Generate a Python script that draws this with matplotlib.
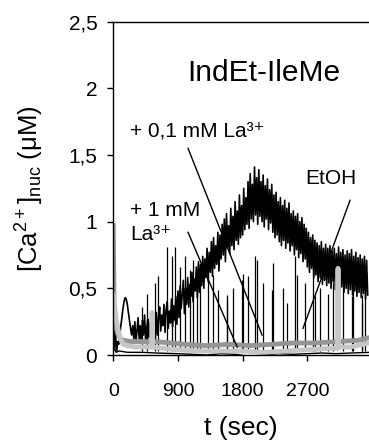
import numpy as np
import matplotlib
matplotlib.use("Agg")
import matplotlib.pyplot as plt

plt.rcParams['font.family'] = ['Liberation Sans', 'DejaVu Sans']
plt.rcParams['mathtext.fontset'] = 'custom'
plt.rcParams['mathtext.rm'] = 'Liberation Sans'
plt.rcParams['mathtext.default'] = 'regular'

# Trace with + 0,1 mM La3+ (black, noisy), one reading every 15 s
STEP = 15
ca_01 = [
    0.25, 0.05, 0.18, 0.03, 0.10, 0.08, 0.15, 0.22, 0.28, 0.35, 0.40, 0.43, 0.42, 0.38, 0.32, 0.26, 0.20, 0.15, 0.22, 0.12,
    0.25, 0.10, 0.18, 0.28, 0.12, 0.22, 0.09, 0.26, 0.15, 0.30, 0.11, 0.20, 0.27, 0.13, 0.24, 0.10, 0.29, 0.16, 0.23, 0.12,
    0.32, 0.15, 0.28, 0.36, 0.18, 0.30, 0.22, 0.38, 0.17, 0.34, 0.40, 0.20, 0.33, 0.24, 0.42, 0.21, 0.37, 0.26, 0.44, 0.23,
    0.48, 0.28, 0.52, 0.35, 0.45, 0.56, 0.31, 0.50, 0.38, 0.58, 0.36, 0.53, 0.44, 0.62, 0.40, 0.57, 0.48, 0.66, 0.43, 0.70,
    0.47, 0.68, 0.52, 0.74, 0.50, 0.72, 0.58, 0.80, 0.55, 0.77, 0.62, 0.85, 0.59, 0.88, 0.65, 0.82, 0.68, 0.92, 0.63, 0.90,
    0.72, 0.98, 0.75, 1.02, 0.70, 1.06, 0.80, 0.97, 0.76, 1.10, 0.82, 1.04, 0.79, 1.15, 0.86, 1.08, 0.83, 1.20, 0.88, 1.12,
    0.90, 1.25, 0.94, 1.18, 0.98, 1.30, 0.95, 1.36, 1.02, 1.28, 1.00, 1.41, 1.05, 1.33, 0.98, 1.39, 1.04, 1.30, 1.00, 1.35,
    0.96, 1.27, 1.02, 1.32, 0.94, 1.24, 0.99, 1.28, 0.92, 1.20, 0.88, 1.22, 0.90, 1.15, 0.85, 1.18, 0.82, 1.12, 0.86, 1.16,
    0.80, 1.10, 0.84, 1.14, 0.78, 1.06, 0.82, 1.08, 0.75, 1.04, 0.79, 1.06, 0.73, 1.00, 0.76, 1.03, 0.70, 0.98, 0.72, 0.95,
    0.66, 0.92, 0.62, 0.88, 0.65, 0.90, 0.58, 0.86, 0.60, 0.84, 0.55, 0.82, 0.58, 0.85, 0.53, 0.80, 0.56, 0.83, 0.52, 0.80,
    0.54, 0.82, 0.50, 0.78, 0.55, 0.80, 0.49, 0.76, 0.52, 0.81, 0.48, 0.77, 0.51, 0.79, 0.47, 0.75, 0.50, 0.78, 0.46, 0.76,
    0.49, 0.79, 0.45, 0.74, 0.48, 0.77, 0.44, 0.73, 0.47, 0.75, 0.43, 0.72, 0.46, 0.74, 0.42, 0.71, 0.45,
]

# Trace with + 1 mM La3+ (black): baseline plus transient spikes
base_t = [0, 20, 40, 80, 200, 400, 600, 900, 1100, 1300, 1500, 1700, 1900,
          2100, 2300, 2500, 2700, 2900, 3100, 3300, 3560]
base_v = [0.12, 0.04, 0.02, 0.03, 0.02, 0.02, 0.015, 0.01, 0.005, 0.0, 0.01,
          0.005, -0.01, 0.0, 0.01, 0.005, 0.01, 0.015, 0.01, 0.015, 0.02]
spike_t = [395, 465, 580, 626, 743, 812, 859, 928, 998, 1067, 1113, 1167,
           1206, 1322, 1390, 1461, 1577, 1585, 1670, 1790, 1806, 1880, 1976,
           2000, 2087, 2203, 2227, 2365, 2412, 2529, 2560, 2668, 2783, 2807,
           2880, 2988, 3060, 3200, 3315, 3340, 3454, 3463, 3505]
spike_top = [0.36, 0.46, 0.54, 0.59, 0.81, 0.74, 0.81, 0.66, 0.74, 0.64,
             0.71, 0.55, 0.66, 0.59, 0.60, 0.49, 0.41, 0.45, 0.50, 0.56,
             0.61, 0.59, 0.74, 0.71, 0.54, 0.49, 0.69, 0.50, 0.39, 0.74,
             0.60, 0.54, 0.66, 0.44, 0.50, 0.46, 0.55, 0.50, 0.44, 0.60,
             0.39, 0.45, 0.50]

# EtOH controls (grey)
dark_t = [0, 10, 30, 60, 100, 150, 250, 400, 600, 800, 1000, 1300, 1600,
          1900, 2200, 2500, 2800, 3100, 3400, 3560]
dark_v = [0.97, 0.40, 0.25, 0.16, 0.12, 0.11, 0.10, 0.10, 0.10, 0.09, 0.08,
          0.07, 0.08, 0.07, 0.08, 0.09, 0.09, 0.10, 0.11, 0.13]
light_t = [0, 15, 40, 70, 100, 140, 200, 300, 450, 534, 540, 546, 700, 900,
           1200, 1500, 1800, 2100, 2400, 2700, 3000, 3120, 3127, 3134, 3300,
           3560]
light_v = [0.45, 0.38, 0.27, 0.18, 0.12, 0.08, 0.07, 0.06, 0.06, 0.06, 0.32,
           0.06, 0.05, 0.04, 0.03, 0.03, 0.03, 0.02, 0.03, 0.04, 0.05, 0.05,
           0.65, 0.06, 0.06, 0.09]

yticks = [0, 0.5, 1, 1.5, 2, 2.5]
ytick_labels = ['0', '0,5', '1', '1,5', '2', '2,5']
xticks = [0, 900, 1800, 2700]

t_01 = np.arange(len(ca_01)) * STEP

fig = plt.figure(figsize=(3.69, 4.41), dpi=100)
ax = fig.add_axes([0.307, 0.195, 0.693, 0.756])

ax.plot(base_t, base_v, color='black', linewidth=1.0)
ax.vlines(spike_t, 0.03, spike_top, color='black', linewidth=0.9)
ax.plot(t_01, ca_01, color='black', linewidth=1.2)
ax.plot(dark_t, dark_v, color='#959595', linewidth=3.5)
ax.plot(light_t, light_v, color='#c6c6c6', linewidth=3.5)

# annotation pointers
ax.plot([1040, 2070], [1.55, 0.15], color='black', linewidth=1.0)
ax.plot([1040, 1724], [0.92, 0.06], color='black', linewidth=1.0)
ax.plot([3294, 2640], [1.16, 0.20], color='black', linewidth=1.0)

ax.text(2097, 2.114, 'IndEt-IleMe', ha='center', va='center', fontsize=21.5)
ax.text(230, 1.68, '+ 0,1 mM La³⁺', ha='left', va='center', fontsize=15)
ax.text(230, 1.087, '+ 1 mM', ha='left', va='center', fontsize=15)
ax.text(230, 0.90, 'La³⁺', ha='left', va='center', fontsize=15)
ax.text(2668, 1.327, 'EtOH', ha='left', va='center', fontsize=15)

ax.set_xlim(0, 3558)
ax.set_ylim(0, 2.5)
ax.set_yticks(yticks)
ax.set_yticklabels(ytick_labels)
ax.set_xticks(xticks)
ax.tick_params(axis='y', direction='out', length=4.5, width=1, pad=7, labelsize=15)
ax.tick_params(axis='x', direction='out', length=4, width=1, pad=16, labelsize=14)
ax.spines['right'].set_visible(False)
for s in ['left', 'bottom', 'top']:
    ax.spines[s].set_linewidth(1.0)

ax.set_xlabel('t (sec)', fontsize=19, labelpad=12)
ax.set_ylabel(r'[Ca$^{2+}$]$_{nuc}$ (μM)', fontsize=18.5, labelpad=16)

fig.savefig('out.png', dpi=100)
